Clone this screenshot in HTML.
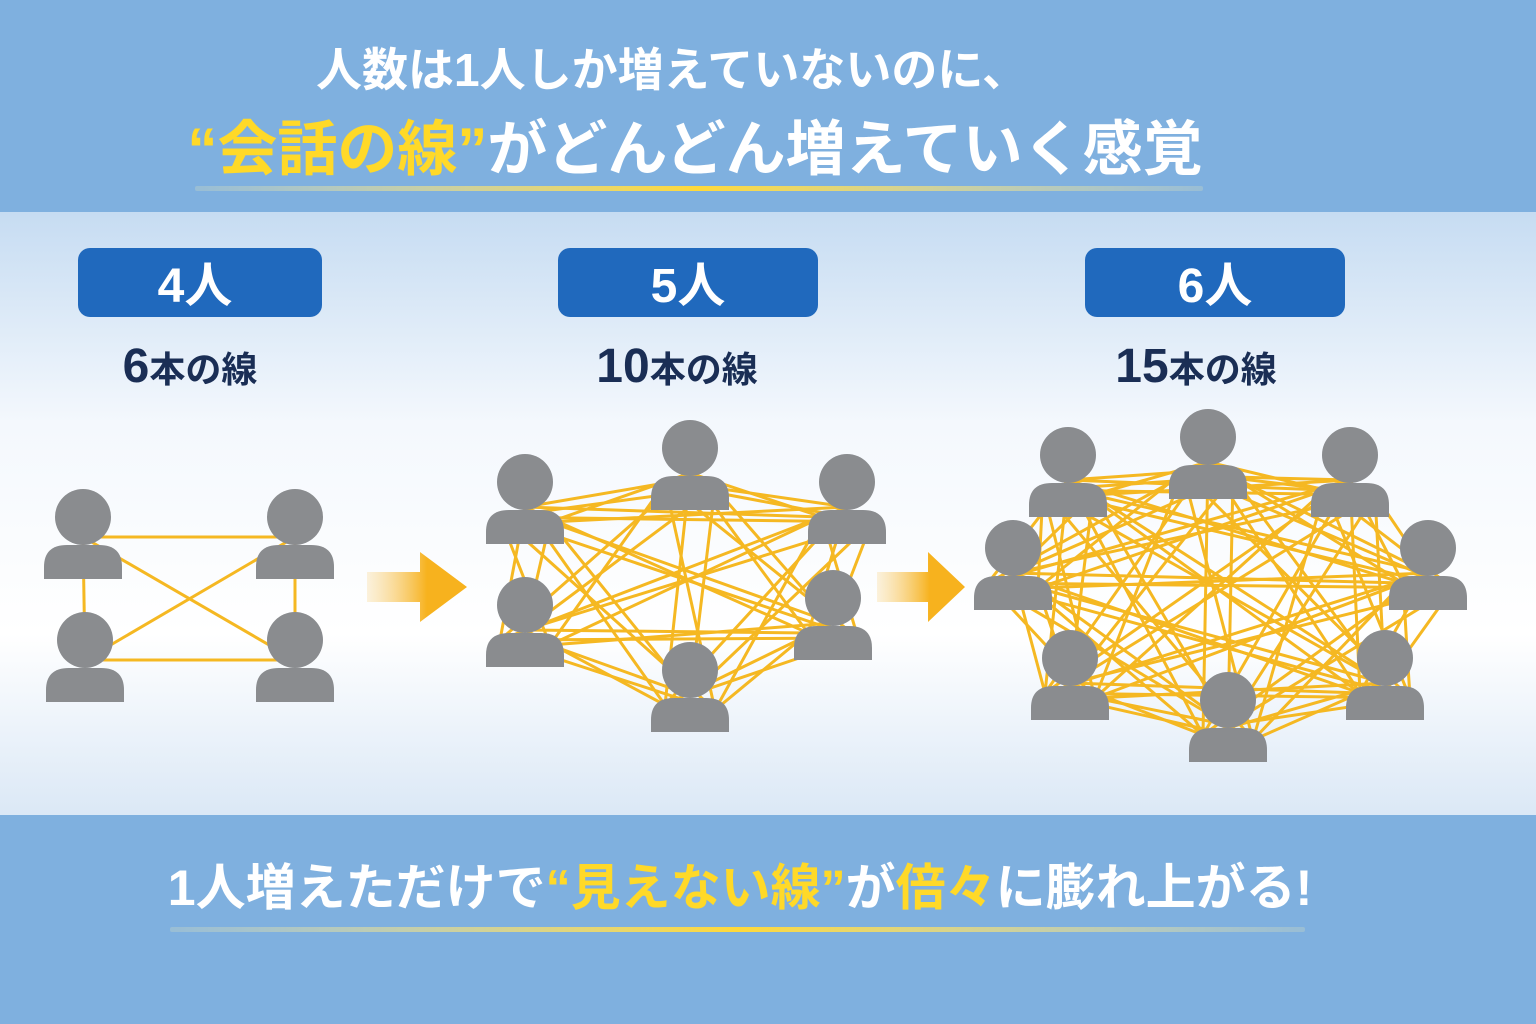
<!DOCTYPE html>
<html><head><meta charset="utf-8"><style>
html,body{margin:0;padding:0;width:1536px;height:1024px;overflow:hidden;font-family:"Liberation Sans","Noto Sans CJK JP",sans-serif;}
</style></head><body>
<svg width="1536" height="1024" viewBox="0 0 1536 1024" xmlns="http://www.w3.org/2000/svg">
<defs>
<linearGradient id="mid" x1="0" y1="0" x2="0" y2="1">
<stop offset="0" stop-color="#c6dcf2"/><stop offset="0.35" stop-color="#f4f8fd"/><stop offset="0.7" stop-color="#ffffff"/><stop offset="1" stop-color="#dbe8f6"/></linearGradient>
<linearGradient id="arr" x1="0" y1="0" x2="1" y2="0">
<stop offset="0" stop-color="#f8d58a" stop-opacity="0.3"/><stop offset="0.6" stop-color="#f7b21e"/><stop offset="1" stop-color="#f7b21e"/></linearGradient>
<linearGradient id="ul" x1="0" y1="0" x2="1" y2="0">
<stop offset="0" stop-color="#fff3b0" stop-opacity="0.2"/><stop offset="0.5" stop-color="#ffd93a"/><stop offset="1" stop-color="#fff3b0" stop-opacity="0.2"/></linearGradient>
</defs>
<rect x="0" y="0" width="1536" height="212" fill="#7fb0df"/>
<rect x="0" y="212" width="1536" height="603" fill="url(#mid)"/>
<rect x="0" y="815" width="1536" height="209" fill="#7fb0df"/>

<text x="672" y="86" text-anchor="middle" font-size="46" font-weight="bold" fill="#fff">人数は1人しか増えていないのに、</text>
<text x="695" y="170" text-anchor="middle" font-size="60" font-weight="bold" fill="#fff"><tspan fill="#ffd928">“会話の線”</tspan>がどんどん増えていく感覚</text>
<rect x="195" y="186" width="1008" height="5" rx="2" fill="url(#ul)"/>

<g fill="#2069bd">
<rect x="78" y="248" width="244" height="69" rx="12"/>
<rect x="558" y="248" width="260" height="69" rx="12"/>
<rect x="1085" y="248" width="260" height="69" rx="12"/>
</g>
<g font-weight="bold" fill="#fff" text-anchor="middle" font-size="48">
<text x="195" y="302">4人</text><text x="688" y="302">5人</text><text x="1215" y="302">6人</text>
</g>
<g font-weight="bold" fill="#1a2e55" text-anchor="middle">
<text x="190" y="382" font-size="36"><tspan font-size="48">6</tspan>本の線</text>
<text x="677" y="382" font-size="36"><tspan font-size="48">10</tspan>本の線</text>
<text x="1196" y="382" font-size="36"><tspan font-size="48">15</tspan>本の線</text>
</g>

<polygon points="367,572 420,572 420,552 467,587 420,622 420,602 367,602" fill="url(#arr)"/>
<polygon points="877,572 928,572 928,552 965,587 928,622 928,602 877,602" fill="url(#arr)"/>

<g id="lines" stroke="#f5b822" stroke-width="3" fill="none"></g>
<g id="people" fill="#8a8c8f"></g>

<text x="740" y="905" text-anchor="middle" font-size="50" font-weight="bold" fill="#fff">1人増えただけで<tspan fill="#ffd928">“見えない線”</tspan>が<tspan fill="#ffd928">倍々</tspan>に膨れ上がる!</text>
<rect x="170" y="927" width="1135" height="5" rx="2" fill="url(#ul)"/>
</svg>
<script>
const groups=[
[[83,517],[295,517],[85,640],[295,640]],
[[525,482],[690,448],[847,482],[525,605],[833,598],[690,670]],
[[1068,455],[1208,437],[1350,455],[1013,548],[1428,548],[1070,658],[1385,658],[1228,700]]
];
const L=document.getElementById('lines'),P=document.getElementById('people');
let s='',p='';
const offs=[[0,25],[-25,35],[25,40]];
groups.forEach((g,gi)=>{
for(let i=0;i<g.length;i++)for(let j=i+1;j<g.length;j++){
 if(gi==0){s+=`<line x1="${g[i][0]}" y1="${g[i][1]+20}" x2="${g[j][0]}" y2="${g[j][1]+20}"/>`;continue;}
 for(let k=0;k<3;k++){
  const a=offs[k],b=offs[(k+1)%3];
  s+=`<line x1="${g[i][0]+a[0]}" y1="${g[i][1]+a[1]}" x2="${g[j][0]+b[0]}" y2="${g[j][1]+b[1]}"/>`;}
}
g.forEach(([x,y])=>{
 p+=`<circle cx="${x}" cy="${y}" r="28"/><path d="M${x-39} ${y+62} L${x-39} ${y+50} Q${x-39} ${y+28} ${x-16} ${y+28} L${x+16} ${y+28} Q${x+39} ${y+28} ${x+39} ${y+50} L${x+39} ${y+62} Z"/>`;
});
});
L.innerHTML=s;P.innerHTML=p;
</script>
</body></html>
